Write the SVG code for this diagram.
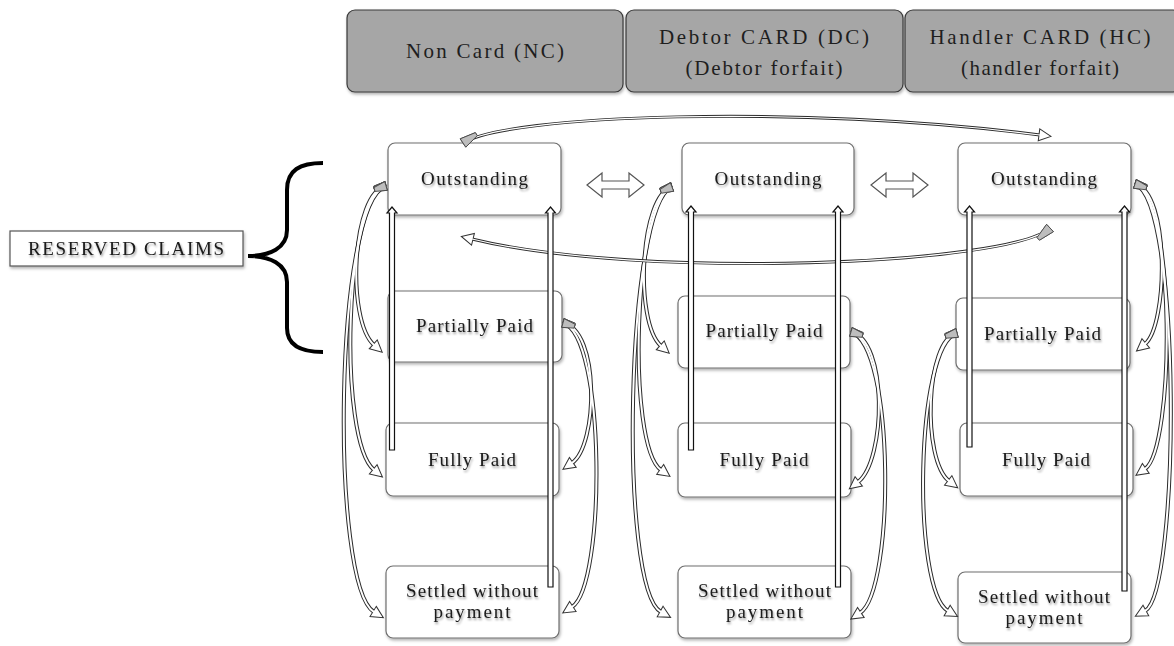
<svg xmlns="http://www.w3.org/2000/svg" xmlns:xlink="http://www.w3.org/1999/xlink" width="1174" height="646" viewBox="0 0 1174 646">
<style>
.hdr{fill:#a6a6a6;stroke:#3a3a3a;stroke-width:1.2}
.node{fill:#fff;stroke:#6e6e6e;stroke-width:1.2}
.ht{font-family:"Liberation Serif","Times New Roman",serif;font-size:21px;fill:#1e1e1e;text-anchor:middle}
.nt{font-family:"Liberation Serif","Times New Roman",serif;font-size:19px;fill:#1a1a1a;text-anchor:middle}
.outer{fill:none;stroke:#2b2b2b;stroke-width:4;marker-end:url(#ah);marker-start:url(#wedge)}
.inner{fill:none;stroke:#fff;stroke-width:2;marker-start:url(#wedge)}
.outerT{fill:none;stroke:#2b2b2b;stroke-width:3;marker-end:url(#ah);marker-start:url(#wedgeT)}
.innerT{fill:none;stroke:#fff;stroke-width:1.2;marker-start:url(#wedgeT)}
.varr{fill:#fff;stroke:#111;stroke-width:1.2;stroke-linejoin:miter}
.harr{fill:#fff;stroke:#555;stroke-width:1.2}
</style>
<defs>
<filter id="bsh" x="-10%" y="-10%" width="120%" height="130%"><feDropShadow dx="1" dy="2" stdDeviation="1.5" flood-color="#000" flood-opacity="0.3"/></filter>
<filter id="tsh" x="-10%" y="-30%" width="120%" height="170%"><feDropShadow dx="1" dy="2" stdDeviation="1" flood-color="#000" flood-opacity="0.4"/></filter>
<marker id="ah" markerUnits="userSpaceOnUse" viewBox="-3 -9 18 18" markerWidth="18" markerHeight="18" refX="0" refY="0" orient="auto" overflow="visible">
<path d="M-1,-6 L11,0 L-1,6 Z" fill="#fff" stroke="#333" stroke-width="1"/>
</marker>
<marker id="wedge" markerUnits="userSpaceOnUse" viewBox="-3 -6 16 12" markerWidth="16" markerHeight="12" refX="0" refY="0" orient="auto" overflow="visible">
<path d="M0,-4.5 L12,-2 L12,2 L0,4.5 Z" fill="#bdbdbd" stroke="#444" stroke-width="0.8"/>
</marker>
<marker id="wedgeT" markerUnits="userSpaceOnUse" viewBox="-3 -6 20 12" markerWidth="20" markerHeight="12" refX="0" refY="0" orient="auto" overflow="visible">
<path d="M0,-5 L16,-1.8 L16,1.8 L0,5 Z" fill="#bdbdbd" stroke="#444" stroke-width="0.8"/>
</marker>
</defs>
<rect width="1174" height="646" fill="#fff"/>

<g id="hdr-nc"><rect class="hdr" x="347" y="10" width="276" height="82" rx="8" filter="url(#bsh)"/><text class="ht" x="485" y="58" textLength="158">Non Card (NC)</text></g>
<g id="hdr-dc"><rect class="hdr" x="626" y="10" width="277" height="82" rx="8" filter="url(#bsh)"/><text class="ht" x="764" y="44" textLength="210">Debtor CARD (DC)</text><text class="ht" x="764" y="75" textLength="157">(Debtor forfait)</text></g>
<g id="hdr-hc"><rect class="hdr" x="905" y="10" width="276" height="82" rx="8" filter="url(#bsh)"/><text class="ht" x="1040" y="44" textLength="221">Handler CARD (HC)</text><text class="ht" x="1040" y="75" textLength="158">(handler forfait)</text></g>

<g id="reserved"><rect x="10" y="231" width="233" height="35" fill="#fff" stroke="#555" stroke-width="1.2" filter="url(#bsh)"/><text class="nt" x="126" y="255" font-size="17.5" textLength="196" filter="url(#tsh)">RESERVED CLAIMS</text></g>
<g id="brace"><path d="M323,163 C300,163 287,170 287,190 L287,230 C287,248 270,256 248,256 C270,256 287,264 287,282 L287,328 C287,345 300,352 323,352" fill="none" stroke="#000" stroke-width="4"/></g>

<g id="nc-out"><rect class="node" x="388" y="143" width="173" height="72" rx="7" filter="url(#bsh)"/><text class="nt" x="474.5" y="185" textLength="107" filter="url(#tsh)">Outstanding</text></g>
<g id="nc-pp"><rect class="node" x="388" y="291" width="174" height="71" rx="7" filter="url(#bsh)"/><text class="nt" x="474.5" y="332" textLength="117" filter="url(#tsh)">Partially  Paid</text></g>
<g id="nc-fp"><rect class="node" x="386" y="423" width="173" height="73" rx="7" filter="url(#bsh)"/><text class="nt" x="472" y="466" textLength="88" filter="url(#tsh)">Fully Paid</text></g>
<g id="nc-sw"><rect class="node" x="386" y="566" width="173" height="72" rx="7" filter="url(#bsh)"/><text class="nt" x="472" y="597" textLength="132" filter="url(#tsh)">Settled without</text><text class="nt" x="472" y="618" textLength="77" filter="url(#tsh)">payment</text></g>

<g id="dc-out"><rect class="node" x="682" y="143" width="172" height="72" rx="7" filter="url(#bsh)"/><text class="nt" x="768" y="185" textLength="107" filter="url(#tsh)">Outstanding</text></g>
<g id="dc-pp"><rect class="node" x="678" y="296" width="172" height="72" rx="7" filter="url(#bsh)"/><text class="nt" x="764" y="337" textLength="117" filter="url(#tsh)">Partially  Paid</text></g>
<g id="dc-fp"><rect class="node" x="678" y="423" width="173" height="74" rx="7" filter="url(#bsh)"/><text class="nt" x="764" y="466" textLength="89" filter="url(#tsh)">Fully Paid</text></g>
<g id="dc-sw"><rect class="node" x="678" y="566" width="173" height="72" rx="7" filter="url(#bsh)"/><text class="nt" x="764.5" y="597" textLength="133" filter="url(#tsh)">Settled without</text><text class="nt" x="764.5" y="618" textLength="77" filter="url(#tsh)">payment</text></g>

<g id="hc-out"><rect class="node" x="958" y="143" width="173" height="72" rx="7" filter="url(#bsh)"/><text class="nt" x="1044" y="185" textLength="106" filter="url(#tsh)">Outstanding</text></g>
<g id="hc-pp"><rect class="node" x="956" y="298" width="174" height="72" rx="7" filter="url(#bsh)"/><text class="nt" x="1042.5" y="340" textLength="117" filter="url(#tsh)">Partially  Paid</text></g>
<g id="hc-fp"><rect class="node" x="960" y="423" width="173" height="73" rx="7" filter="url(#bsh)"/><text class="nt" x="1046" y="466" textLength="88" filter="url(#tsh)">Fully Paid</text></g>
<g id="hc-sw"><rect class="node" x="958" y="572" width="173" height="71" rx="7" filter="url(#bsh)"/><text class="nt" x="1044" y="603" textLength="132" filter="url(#tsh)">Settled without</text><text class="nt" x="1044" y="624" textLength="77" filter="url(#tsh)">payment</text></g>

<g id="connectors">
<g class="outer">
<path id="a1" d="M386,186 C352,192 346,320 374,345"/>
<path id="a2" d="M386,186 C344,196 338,440 374,470"/>
<path id="a3" d="M386,186 C334,202 330,585 374,612"/>
<path id="b1" d="M563,323 C600,330 598,445 572,463"/>
<path id="b2" d="M563,323 C606,335 606,585 572,607"/>
<path id="c1" d="M672,187 C640,195 634,322 661,346"/>
<path id="c2" d="M672,187 C634,198 626,445 661,470"/>
<path id="c3" d="M672,187 C626,205 618,588 661,612"/>
<path id="d1" d="M851,332 C888,340 886,460 858,482"/>
<path id="d2" d="M851,332 C895,345 895,590 860,613"/>
<path id="e1" d="M1135,184 C1170,192 1168,325 1145,344"/>
<path id="e2" d="M1135,184 C1176,196 1175,448 1145,469"/>
<path id="e3" d="M1135,184 C1182,200 1180,592 1145,611"/>
<path id="f1" d="M957,333 C925,340 922,460 949,481"/>
<path id="f2" d="M957,333 C915,345 912,590 948,611"/>
</g>
<g class="inner">
<use href="#a1"/><use href="#a2"/><use href="#a3"/><use href="#b1"/><use href="#b2"/>
<use href="#c1"/><use href="#c2"/><use href="#c3"/><use href="#d1"/><use href="#d2"/>
<use href="#e1"/><use href="#e2"/><use href="#e3"/><use href="#f1"/><use href="#f2"/>
</g>
<g class="outerT">
<path id="t1" d="M463,143 C505,115 800,104 1040,135"/>
<path id="t2" d="M1050,228 C1010,265 640,280 472,239"/>
</g>
<g class="innerT"><use href="#t1"/><use href="#t2"/></g>

<polygon class="varr" points="389.5,450 389.5,213 387,213 392,207 397,213 394.5,213 394.5,450"/>
<polygon class="varr" points="548,587 548,213 545.5,213 550.5,207 555.5,213 553,213 553,587"/>
<polygon class="varr" points="688.5,450 688.5,212 686,212 691,206 696,212 693.5,212 693.5,450"/>
<polygon class="varr" points="835.5,587 835.5,212 833,212 838,206 843,212 840.5,212 840.5,587"/>
<polygon class="varr" points="967,447 967,212 964.5,212 969.5,206 974.5,212 972,212 972,447"/>
<polygon class="varr" points="1122,591 1122,212 1119.5,212 1124.5,206 1129.5,212 1127,212 1127,591"/>

<polygon class="harr" points="587,185 602,173 602,181 629,181 629,173 644,185 629,197 629,189 602,189 602,197"/>
<polygon class="harr" points="871,185 886,173 886,181 913,181 913,173 928,185 913,197 913,189 886,189 886,197"/>
</g>
</svg>
